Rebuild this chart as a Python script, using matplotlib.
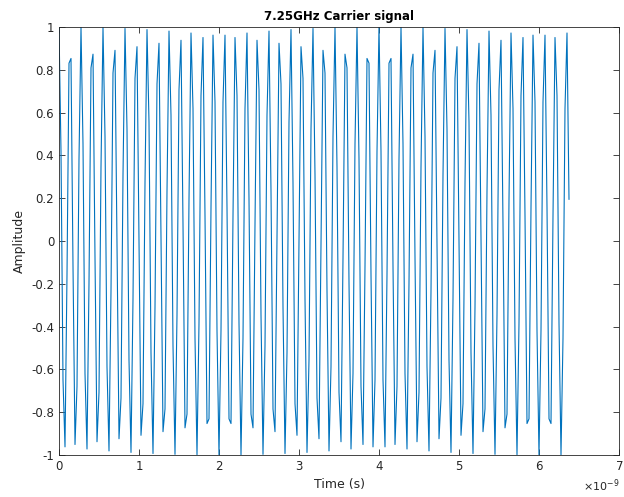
import numpy as np
import matplotlib
matplotlib.use("Agg")
import matplotlib.pyplot as plt
from matplotlib.ticker import ScalarFormatter, FuncFormatter

plt.rcParams['font.family'] = ['DejaVu Sans']
plt.rcParams['axes.unicode_minus'] = False

# 7.25 GHz carrier sampled at 40 GHz (25 ps per sample)
sample_period = 25e-12
carrier = [
    1.000, 0.419, -0.649, -0.962, -0.156, 0.831, 0.853, -0.118, -0.951, -0.679,
    0.383, 0.999, 0.454, -0.619, -0.972, -0.195, 0.809, 0.873, -0.078, -0.938,
    -0.707, 0.346, 0.997, 0.489, -0.588, -0.981, -0.233, 0.785, 0.891, -0.039,
    -0.924, -0.734, 0.309, 0.993, 0.523, -0.556, -0.988, -0.271, 0.760, 0.908,
    0.000, -0.908, -0.760, 0.271, 0.988, 0.556, -0.523, -0.993, -0.309, 0.734,
    0.924, 0.039, -0.891, -0.785, 0.233, 0.981, 0.588, -0.489, -0.997, -0.346,
    0.707, 0.938, 0.078, -0.873, -0.809, 0.195, 0.972, 0.619, -0.454, -0.999,
    -0.383, 0.679, 0.951, 0.118, -0.853, -0.831, 0.156, 0.962, 0.649, -0.419,
    -1.000, -0.419, 0.649, 0.962, 0.156, -0.831, -0.853, 0.118, 0.951, 0.679,
    -0.383, -0.999, -0.454, 0.619, 0.972, 0.195, -0.809, -0.873, 0.078, 0.938,
    0.707, -0.346, -0.997, -0.489, 0.588, 0.981, 0.233, -0.785, -0.891, 0.039,
    0.924, 0.734, -0.309, -0.993, -0.523, 0.556, 0.988, 0.271, -0.760, -0.908,
    0.000, 0.908, 0.760, -0.271, -0.988, -0.556, 0.523, 0.993, 0.309, -0.734,
    -0.924, -0.039, 0.891, 0.785, -0.233, -0.981, -0.588, 0.489, 0.997, 0.346,
    -0.707, -0.938, -0.078, 0.873, 0.809, -0.195, -0.972, -0.619, 0.454, 0.999,
    0.383, -0.679, -0.951, -0.118, 0.853, 0.831, -0.156, -0.962, -0.649, 0.419,
    1.000, 0.419, -0.649, -0.962, -0.156, 0.831, 0.853, -0.118, -0.951, -0.679,
    0.383, 0.999, 0.454, -0.619, -0.972, -0.195, 0.809, 0.873, -0.078, -0.938,
    -0.707, 0.346, 0.997, 0.489, -0.588, -0.981, -0.233, 0.785, 0.891, -0.039,
    -0.924, -0.734, 0.309, 0.993, 0.523, -0.556, -0.988, -0.271, 0.760, 0.908,
    0.000, -0.908, -0.760, 0.271, 0.988, 0.556, -0.523, -0.993, -0.309, 0.734,
    0.924, 0.039, -0.891, -0.785, 0.233, 0.981, 0.588, -0.489, -0.997, -0.346,
    0.707, 0.938, 0.078, -0.873, -0.809, 0.195, 0.972, 0.619, -0.454, -0.999,
    -0.383, 0.679, 0.951, 0.118, -0.853, -0.831, 0.156, 0.962, 0.649, -0.419,
    -1.000, -0.419, 0.649, 0.962, 0.156, -0.831, -0.853, 0.118, 0.951, 0.679,
    -0.383, -0.999, -0.454, 0.619, 0.972, 0.195,
]
time = np.arange(len(carrier)) * sample_period

x_ticks = [0, 1e-9, 2e-9, 3e-9, 4e-9, 5e-9, 6e-9, 7e-9]
y_ticks = [-1, -0.8, -0.6, -0.4, -0.2, 0, 0.2, 0.4, 0.6, 0.8, 1]

axis_grey = '#262626'

fig = plt.figure(figsize=(6.24, 4.97), dpi=100)
ax = fig.add_axes([59 / 624, 42 / 497, 560 / 624, 428 / 497])
ax.plot(time, carrier, color='#0072BD', linewidth=0.8)

ax.set_xlim(0, 7e-9)
ax.set_ylim(-1, 1)
ax.set_xticks(x_ticks)
ax.set_yticks(y_ticks)

fmt = ScalarFormatter(useMathText=True)
fmt.set_powerlimits((0, 0))
ax.xaxis.set_major_formatter(fmt)
ax.yaxis.set_major_formatter(FuncFormatter(lambda v, p: '%g' % round(v, 2)))

ax.tick_params(direction='in', top=True, right=True, length=4, width=0.6,
               colors=axis_grey, labelsize=8.5)
ax.xaxis.get_offset_text().set_fontsize(8)
ax.xaxis.get_offset_text().set_color(axis_grey)
for side in ax.spines.values():
    side.set_color(axis_grey)
    side.set_linewidth(0.6)

ax.set_xlabel('Time (s)', fontsize=9, color=axis_grey, labelpad=4)
ax.set_ylabel('Amplitude', fontsize=9, color=axis_grey, labelpad=4)
ax.set_title('7.25GHz Carrier signal', fontsize=8.5, fontweight='bold', pad=5)

fig.savefig('out.png', dpi=100)
